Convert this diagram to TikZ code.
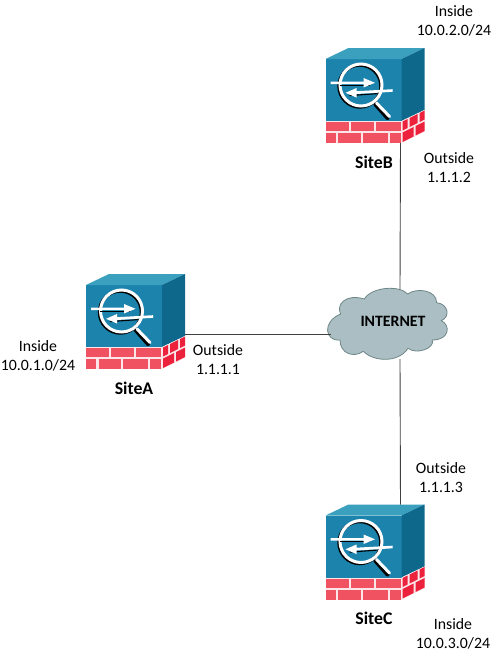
\documentclass[tikz,border=0pt]{standalone}
\usepackage{fontspec}
\setmainfont{Carlito}
\usetikzlibrary{calc}
\definecolor{frontblue}{RGB}{28,131,172}
\definecolor{topblue}{RGB}{58,160,190}
\definecolor{sideblue}{RGB}{14,104,140}
\definecolor{brickred}{RGB}{240,82,98}
\definecolor{siderred}{RGB}{236,34,60}
\definecolor{cloudgray}{RGB}{170,190,196}
\definecolor{cloudline}{RGB}{110,135,135}
\tikzset{
  sitelabel/.style={font=\fontsize{17.8}{20}\selectfont\bfseries, inner sep=0pt},
  addrlabel/.style={font=\fontsize{15.8}{19}\selectfont, align=center, inner sep=0pt},
  link/.style={draw=black!75, line width=0.9pt},
  firewall/.pic={
    % Draw faces
    \fill[frontblue] (0,0) rectangle (76,62);
    \fill[topblue] (0,0) -- (23,-11) -- (99,-11) -- (76,0) -- cycle;
    \fill[sideblue] (76,0) -- (99,-11) -- (99,51) -- (76,62) -- cycle;
    \fill[white!85!brickred] (0,62) rectangle (76,84);
    \fill[white!85!brickred] (76,62) -- (99,51) -- (99,73) -- (76,84) -- cycle;
    % Draw bricks
    \fill[brickred] (0,63) rectangle (23,72);
    \fill[brickred] (25,63) rectangle (48,72);
    \fill[brickred] (50,63) rectangle (75,72);
    \fill[brickred] (0,74) rectangle (10,84);
    \fill[brickred] (12.5,74) rectangle (35,84);
    \fill[brickred] (37,74) rectangle (62,84);
    \fill[brickred] (64,74) rectangle (75,84);
    \fill[siderred] (77,62.5) -- (82,60) -- (82,69) -- (77,71.5) -- cycle;
    \fill[siderred] (84,59) -- (92,55) -- (92,64) -- (84,68) -- cycle;
    \fill[siderred] (94,54) -- (99,51.5) -- (99,60.5) -- (94,63) -- cycle;
    \fill[siderred] (77,73.5) -- (88,68) -- (88,77.5) -- (77,83) -- cycle;
    \fill[siderred] (90,67) -- (99,62.5) -- (99,72) -- (90,76.5) -- cycle;
    % Draw magnifier
    \draw[black, line width=4pt, line cap=round] (50,45.5) -- (62,59);
    \draw[white, line width=3pt, line cap=round] (51,44) -- (64,57.5);
    \draw[black, line width=3pt] (34.3,27.2) circle (21);
    \draw[white, line width=3pt] (35.5,26) circle (21);
    % Draw arrows
    \draw[black, line width=1.1pt] (14,26.2) -- (44,26.2);
    \draw[black, line width=1.1pt] (24,36.6) -- (52,34.6);
    \fill[white] (5,22.6) -- (38,22.6) -- (38,19) -- (49.5,23.8) -- (38,28.5) -- (38,25.2) -- (5,25.2) -- cycle;
    \fill[white] (67,30.2) -- (31,32.2) -- (31,29) -- (20,33.8) -- (31,38.5) -- (31,35) -- (67,32.8) -- cycle;
    \coordinate (-east) at (99,49);
    \coordinate (-south) at (75,84);
    \coordinate (-north) at (75,-11);
  }
}
\begin{document}
\begin{tikzpicture}[x=1pt, y=-1pt]
  \useasboundingbox (0,0) rectangle (492,654);

  % Draw cloud
  \begin{scope}[shift={(320,280)}, x=0.3333pt, y=-0.3333pt]
    \filldraw[fill=cloudgray, draw=cloudline, line width=0.8pt]
      (62,102) .. controls (48,75) and (75,40) .. (133,57)
      .. controls (155,20) and (240,15) .. (263,42)
      .. controls (290,22) and (350,30) .. (350,68)
      .. controls (385,72) and (392,110) .. (364,122)
      .. controls (392,135) and (390,180) .. (337,180)
      .. controls (345,205) and (290,225) .. (264,205)
      .. controls (235,250) and (160,245) .. (130,214)
      .. controls (100,235) and (60,220) .. (60,180)
      .. controls (15,185) and (5,125) .. (62,102) -- cycle;
  \end{scope}
  \node[inner sep=0pt, font=\fontsize{15.8}{17}\selectfont\bfseries] (cloud) at (393,321) {INTERNET};
  \coordinate (cloudw) at (331,334);
  \coordinate (cloudn) at (400,289);
  \coordinate (clouds) at (400,359);

  % Draw firewalls
  \pic (sitea) at (86,285) {firewall};
  \pic (siteb) at (325.5,59) {firewall};
  \pic (sitec) at (325.5,515.5) {firewall};

  % Draw links
  \draw[link] (sitea-east) -- (cloudw);
  \draw[link] (siteb-south) -- (cloudn);
  \draw[link] (clouds) -- (sitec-north);

  % Draw labels
  \node[sitelabel] (namea) at (134,388) {SiteA};
  \node[sitelabel] (nameb) at (374,162) {SiteB};
  \node[sitelabel] (namec) at (374,618) {SiteC};
  \node[addrlabel] (insidea) at (38,356) {Inside\\10.0.1.0/24};
  \node[addrlabel] (outsidea) at (218,360) {Outside\\1.1.1.1};
  \node[addrlabel] (insideb) at (454,21) {Inside\\10.0.2.0/24};
  \node[addrlabel] (outsideb) at (449,168) {Outside\\1.1.1.2};
  \node[addrlabel] (outsidec) at (441,478) {Outside\\1.1.1.3};
  \node[addrlabel] (insidec) at (453,634) {Inside\\10.0.3.0/24};
\end{tikzpicture}
\end{document}
